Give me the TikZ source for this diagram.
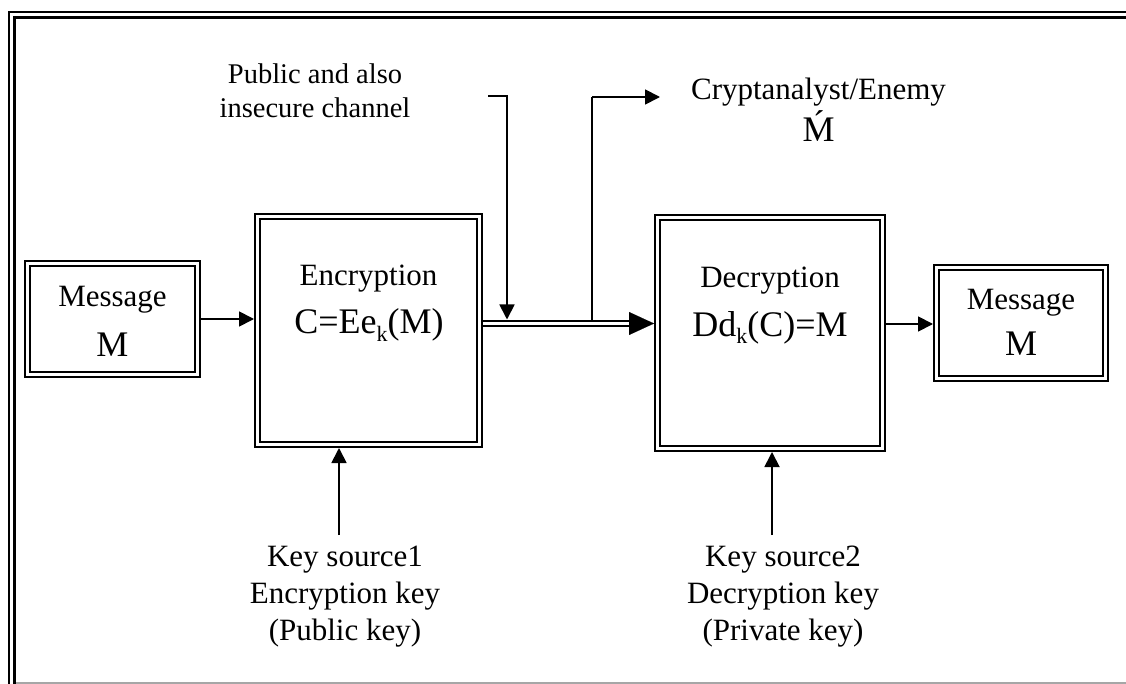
\documentclass[tikz,border=0pt]{standalone}
\usepackage{fontspec}
\setmainfont{Liberation Serif}
\usetikzlibrary{arrows.meta}

\begin{document}
\begin{tikzpicture}[x=1pt,y=-1pt,
  dbox/.style={draw, double, double distance=3pt, line width=1.8pt,
               inner sep=0pt, outer sep=3.3pt},
  frameline/.style={line width=2.2pt},
  txt/.style={font=\fontsize{31}{36}\selectfont, inner sep=0pt, anchor=base},
  smalltxt/.style={font=\fontsize{28.5}{34}\selectfont, inner sep=0pt, anchor=base},
  bigtxt/.style={font=\fontsize{36}{40}\selectfont, inner sep=0pt, anchor=base},
  arr/.style={line width=1.8pt, -{Triangle[length=15pt,width=15pt]}},
  chanline/.style={double, double distance=3pt, line width=1.6pt},
  bighead/.style={line width=0.1pt, -{Triangle[length=25pt,width=23pt]}}
]
\useasboundingbox (0,0) rectangle (1126,684);

% page frame
\draw[frameline] (1126,12) -- (9,12) -- (9,684);
\draw[frameline] (1126,17.5) -- (14.5,17.5) -- (14.5,684);
\draw[gray!70, line width=1.2pt] (16,683) -- (1126,683);

% blocks
\node[dbox, minimum width=170.4, minimum height=111.4] (mL)  at (112.5,319) {};
\node[dbox, minimum width=222.4, minimum height=228.4] (enc) at (368.5,330.5) {};
\node[dbox, minimum width=225.4, minimum height=231.4] (dec) at (770,333) {};
\node[dbox, minimum width=169.4, minimum height=111.4] (mR)  at (1021,323) {};

% block texts
\node[txt]    (mLt) at (112.5,307) {Message};
\node[bigtxt] (mLm) at (112.5,356) {M};
\node[txt]    (enct) at (368.5,286) {Encryption};
\node[bigtxt] (encf) at (369,334) {C=Ee\raisebox{-0.2em}{\fontsize{22}{22}\selectfont k}(M)};
\node[txt]    (dect) at (770,288) {Decryption};
\node[bigtxt] (decf) at (770,336) {Dd\raisebox{-0.2em}{\fontsize{22}{22}\selectfont k}(C)=M};
\node[txt]    (mRt) at (1021,309) {Message};
\node[bigtxt] (mRm) at (1021,355) {M};

% labels
\node[smalltxt] (pub1) at (315,84)  {Public and also};
\node[smalltxt] (pub2) at (315,118) {insecure channel};
\node[txt] (cry1) at (818.5,100) {Cryptanalyst/Enemy};
\node[bigtxt] (cry2) at (818.5,142) {\'M};
\node[txt] (ks1a) at (345,566) {Key source1};
\node[txt] (ks1b) at (345,603) {Encryption key};
\node[txt] (ks1c) at (345,640) {(Public key)};
\node[txt] (ks2a) at (783,566) {Key source2};
\node[txt] (ks2b) at (783,603) {Decryption key};
\node[txt] (ks2c) at (783,640) {(Private key)};

% connector points
\coordinate (chan)   at (0,323.5);
\coordinate (pubst)  at (488,96);
\coordinate (pubdn)  at (507,96);
\coordinate (crup)   at (592,97);
\coordinate (crtip)  at (660,97);
\coordinate (k1)     at (339,535);
\coordinate (k2)     at (772,535);

% message flow
\draw[arr] (mL.east) -- (mL.east -| enc.west);
\draw[chanline] (enc.east |- chan) -- ([xshift=-25pt]dec.west |- chan);
\draw[bighead] ([xshift=-25pt]dec.west |- chan) -- (dec.west |- chan);
\draw[arr] (dec.east |- 0,324) -- (mR.west |- 0,324);

% insecure channel and eavesdropper
\draw[arr] (pubst) -- (pubdn) -- (507,319.5);
\draw[line width=1.8pt] (592,321) -- (crup);
\draw[arr] (crup) -- (crtip);

% key sources
\draw[arr] (k1) -- (k1 |- enc.south);
\draw[arr] (k2) -- (k2 |- dec.south);
\end{tikzpicture}
\end{document}
